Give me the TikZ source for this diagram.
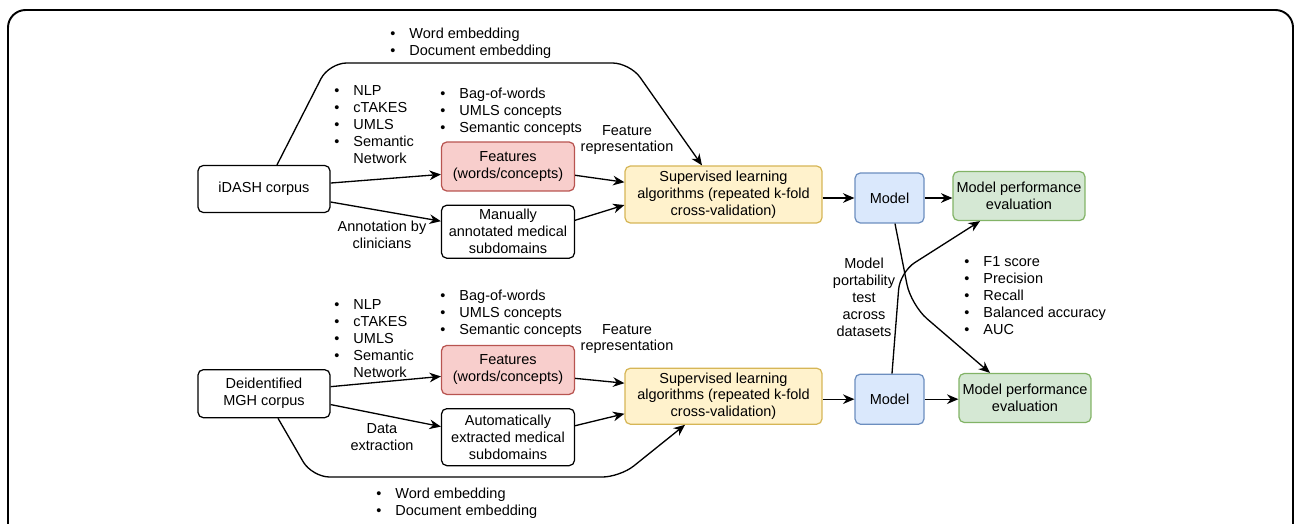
\documentclass[tikz,border=0pt]{standalone}
\usepackage{fontspec}
\setmainfont{Liberation Sans}
\usetikzlibrary{positioning, arrows.meta}

\definecolor{featfill}{HTML}{F8CECC}
\definecolor{featline}{HTML}{B85450}
\definecolor{supfill}{HTML}{FFF2CC}
\definecolor{supline}{HTML}{D6B656}
\definecolor{modfill}{HTML}{DAE8FC}
\definecolor{modline}{HTML}{6C8EBF}
\definecolor{evalfill}{HTML}{D5E8D4}
\definecolor{evalline}{HTML}{82B366}

\newcommand{\blist}[1]{\begin{tabular}{@{}l@{\hspace{8pt}}l@{}}#1\end{tabular}}

\tikzset{
  box/.style={rectangle, draw, rounded corners=3pt, align=center, inner sep=1pt, line width=0.7pt},
  plainbox/.style={box, minimum width=2.66cm, minimum height=0.96cm},
  featbox/.style={box, fill=featfill, draw=featline, minimum width=2.66cm, minimum height=0.98cm},
  supbox/.style={box, fill=supfill, draw=supline, minimum width=3.94cm, minimum height=1.14cm},
  modbox/.style={box, fill=modfill, draw=modline, minimum width=1.38cm, minimum height=1cm},
  evalbox/.style={box, fill=evalfill, draw=evalline, minimum width=2.64cm, minimum height=0.98cm},
  arr/.style={-{Stealth[length=6.5pt,width=5.5pt]}, line width=0.75pt},
  lbl/.style={align=center, inner sep=0pt}
}

\begin{document}
\begin{tikzpicture}[x=0.02cm, y=-0.02cm, every node/.style={font=\fontsize{8.25}{9.64}\selectfont}]
  \useasboundingbox (0,0) rectangle (1295,524);

  % Cornice
  \draw[line width=1.1pt, rounded corners=10pt] (8,524) -- (8,10) -- (1293,10) -- (1293,524);

  % Riga iDASH
  \node[plainbox, minimum width=2.64cm, minimum height=0.94cm] (idash) at (264,189) {iDASH corpus};
  \node[featbox] (feat1) at (508,166.5) {Features\\(words/concepts)};
  \node[plainbox, below=0.26cm of feat1, minimum height=1.06cm] (manual1) {Manually\\annotated medical\\subdomains};
  \node[supbox] (sup1) at (723.5,194.5) {Supervised learning\\algorithms (repeated k-fold\\cross-validation)};
  \node[modbox] (model1) at (889.5,198) {Model};
  \node[evalbox] (eval1) at (1019,196) {Model performance\\evaluation};

  % Riga MGH
  \node[plainbox, below=3.12cm of idash, minimum width=2.64cm] (mgh) {Deidentified\\MGH corpus};
  \node[featbox, below=1.72cm of manual1] (feat2) {Features\\(words/concepts)};
  \node[plainbox, below=0.26cm of feat2, minimum height=1.14cm] (auto2) {Automatically\\extracted medical\\subdomains};
  \node[supbox, below=2.88cm of sup1, minimum height=1.12cm] (sup2) {Supervised learning\\algorithms (repeated k-fold\\cross-validation)};
  \node[modbox, below=3cm of model1] (model2) {Model};
  \node[evalbox] (eval2) at (1025,398) {Model performance\\evaluation};

  % Etichette
  \node[lbl, anchor=west] (emb1) at (390,44) {\blist{\textbullet & Word embedding\\ \textbullet & Document embedding}};
  \node[lbl, anchor=west] (nlp1) at (334,126) {\blist{\textbullet & NLP\\ \textbullet & cTAKES\\ \textbullet & UMLS\\ \textbullet & Semantic\\ & Network}};
  \node[lbl, anchor=west] (bow1) at (440,112) {\blist{\textbullet & Bag-of-words\\ \textbullet & UMLS concepts\\ \textbullet & Semantic concepts}};
  \node[lbl] (rep1) at (627,140) {Feature\\representation};
  \node[lbl] (ann1) at (382,235) {Annotation by\\clinicians};
  \node[lbl] (port) at (864,297) {Model\\portability\\test\\across\\datasets};
  \node[lbl, anchor=west] (metr) at (964,297) {\blist{\textbullet & F1 score\\ \textbullet & Precision\\ \textbullet & Recall\\ \textbullet & Balanced accuracy\\ \textbullet & AUC}};
  \node[lbl, anchor=west] (nlp2) at (334,340) {\blist{\textbullet & NLP\\ \textbullet & cTAKES\\ \textbullet & UMLS\\ \textbullet & Semantic\\ & Network}};
  \node[lbl, anchor=west] (bow2) at (440,314) {\blist{\textbullet & Bag-of-words\\ \textbullet & UMLS concepts\\ \textbullet & Semantic concepts}};
  \node[lbl] (rep2) at (627,339) {Feature\\representation};
  \node[lbl] (ext2) at (382,437) {Data\\extraction};
  \node[lbl, anchor=west] (emb2) at (376,504) {\blist{\textbullet & Word embedding\\ \textbullet & Document embedding}};

  % Connessioni iDASH
  \draw[arr] ([yshift=3.4pt]idash.east) -- ([yshift=-4.5pt]feat1.west);
  \draw[arr] ([yshift=-7.4pt]idash.east) -- ([yshift=6pt]manual1.west);
  \draw[arr] ([yshift=-5pt]feat1.east) -- ([yshift=7pt]sup1.west);
  \draw[arr] ([yshift=6.5pt]manual1.east) -- ([yshift=-6pt]sup1.west);
  \draw[arr] (sup1.east |- model1) -- (model1.west);
  \draw[arr] (model1.east) -- (eval1.west |- model1);
  \draw[arr, rounded corners=10pt] ([xshift=0.26cm]idash.north) -- (329,63) -- (630,63) -- ([xshift=-0.43cm]sup1.north);

  % Connessioni MGH
  \draw[arr] ([yshift=4pt]mgh.east) -- ([yshift=-3.7pt]feat2.west);
  \draw[arr] ([yshift=-6.2pt]mgh.east) -- ([yshift=6pt]auto2.west);
  \draw[arr] ([yshift=-4.8pt]feat2.east) -- ([yshift=7.4pt]sup2.west);
  \draw[arr] ([yshift=6.5pt]auto2.east) -- ([yshift=-10pt]sup2.west);
  \draw[arr] (sup2.east |- model2) -- (model2.west);
  \draw[arr] (model2.east) -- (eval2.west |- model2);
  \draw[arr, rounded corners=10pt] ([xshift=0.28cm]mgh.south) -- (312,477) -- (620,477) -- ([xshift=-0.77cm]sup2.south);

  % Portabilita tra dataset
  \draw[arr, rounded corners=12pt] ([xshift=0.11cm]model1.south) -- (911,305) -- ([xshift=-0.7cm]eval2.north);
  \draw[arr, rounded corners=10pt] ([xshift=0.05cm]model2.north) -- (900,272) -- ([xshift=-0.78cm]eval1.south);
\end{tikzpicture}
\end{document}
